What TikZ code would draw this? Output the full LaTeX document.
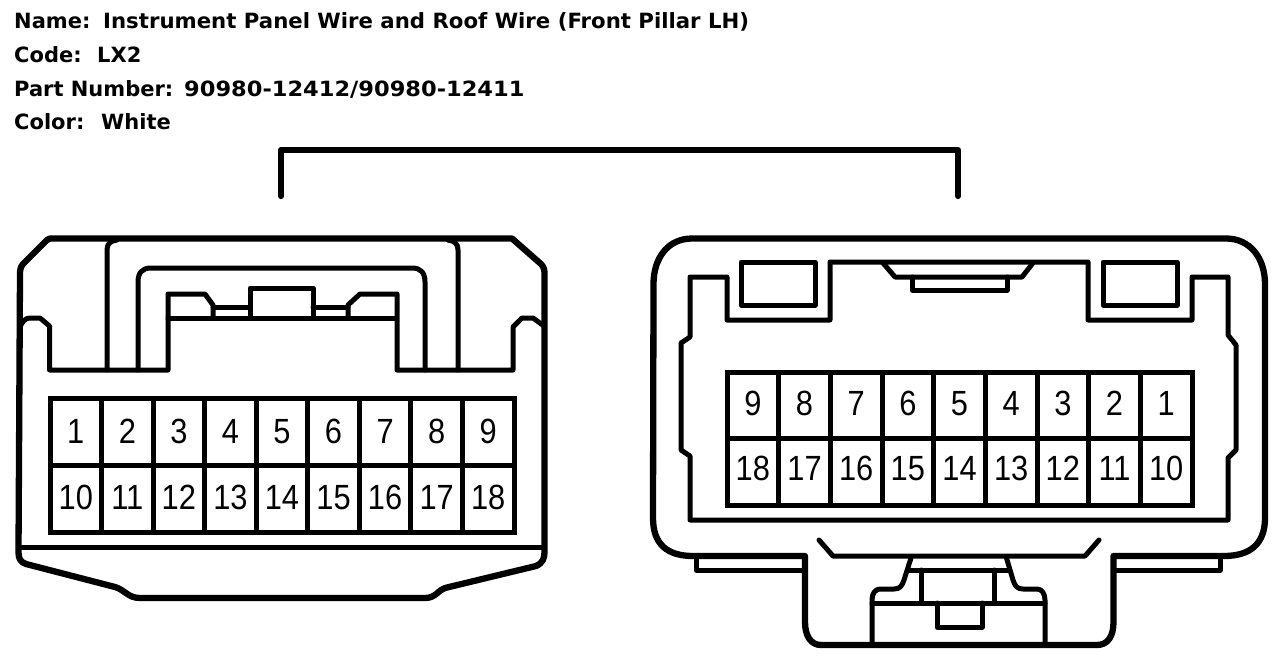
\documentclass[tikz,border=0pt]{standalone}
\usepackage{fontspec}
\setmainfont{Liberation Sans}
\newfontfamily\headfont{DejaVu Sans}[BoldFont={DejaVu Sans Bold}]
\newcommand{\pinnum}[1]{\scalebox{0.88}[1]{#1}}
\tikzset{
  outer/.style={line width=6.3pt,line join=round,line cap=round},
  inner/.style={line width=5pt,line join=round,line cap=round},
  grid/.style={line width=5pt,line join=miter},
  head/.style={inner sep=0pt,anchor=base west,font=\headfont\bfseries\fontsize{21}{25}\selectfont},
  pin/.style={inner sep=0pt,text height=25pt,text depth=0pt,font=\fontsize{35}{40}\selectfont}
}
\begin{document}
\begin{tikzpicture}[x=1pt,y=-1pt]
\useasboundingbox (0,0) rectangle (1280,664);
% header
\node[head] (n1) at (14,28) {Name:};
\node[head] (n2) at (103,28) {\scalebox{1.012}[1]{Instrument Panel Wire and Roof Wire (Front Pillar LH)}};
\node[head] (c1) at (14,62) {Code:};
\node[head] (c2) at (97,62) {LX2};
\node[head] (p1) at (14,96) {Part Number:};
\node[head] (p2) at (184,96) {\scalebox{1.072}[1]{90980-12412/90980-12411}};
\node[head] (k1) at (14,129) {Color:};
\node[head] (k2) at (101,129) {White};
% bracket
\draw[outer] (281,196) -- (281,150) -- (958,150) -- (958,196);
% ---------- left connector
\draw[outer] (50,238.5) -- (512,238.5) -- (541,264) .. controls (544,267) and (544.5,270) .. (544.5,274)
  -- (544.5,552) .. controls (544.5,558) and (543,563) .. (536,566) -- (445,588)
  .. controls (438,590) and (436,598) .. (425,598) -- (140,598)
  .. controls (128,598) and (125,590) .. (115,587) -- (26,564)
  .. controls (20,562) and (18.5,558) .. (18.5,552) -- (20,274)
  .. controls (20,270) and (20.5,267) .. (23,264) -- (47,240) .. controls (48,239) and (49,238.5) .. (50,238.5) -- cycle;
\draw[inner] (20,327) .. controls (22,322) and (25,318) .. (30,318) -- (40,318) -- (49.5,326) -- (49.5,370) -- (168,370) -- (168,294) -- (205,294) -- (213,305) -- (213,318);
\draw[inner] (168,318) -- (395,318);
\draw[inner] (213,307) -- (250,307);
\draw[inner] (250,318) -- (250,288) -- (313,288) -- (313,318);
\draw[inner] (313,307) -- (348,307);
\draw[inner] (348,318) -- (348,305) -- (360,294) -- (397,294) -- (397,370) -- (513,370) -- (513,327) -- (522,318) -- (533,318) -- (544,326);
\draw[inner] (107,370) -- (107,250) .. controls (107,244) and (110,241) .. (117,240);
\draw[inner] (138,370) -- (138,282) .. controls (138,273) and (142,268) .. (151,268) -- (412,268)
  .. controls (421,268) and (425,273) .. (425,282) -- (425,370);
\draw[inner] (458,370) -- (458,250) .. controls (458,244) and (455,241) .. (448,240);
\draw[inner] (20.5,547) -- (544.5,547);
% left grid
\draw[grid] (50,398) rectangle (514,532);
\draw[grid] (50,465) -- (514,465);
\foreach \i in {1,...,8} \draw[grid] ({50+51.55*\i},398) -- ({50+51.55*\i},532);
\foreach \i in {1,...,9} {
  \node[pin] (la\i) at ({50+51.55*(\i-0.5)},430.5) {\pinnum{\i}};
  \pgfmathtruncatemacro{\j}{\i+9}
  \node[pin] (lb\i) at ({50+51.55*(\i-0.5)},497) {\pinnum{\j}};
}
% ---------- right connector
\draw[outer] (692,238.5) -- (1226,238.5) .. controls (1250,238.5) and (1265,258) .. (1265,284)
  -- (1265,518) .. controls (1265,544) and (1250,556) .. (1224,556) -- (1113.5,556) -- (1113.5,622)
  .. controls (1113.5,636) and (1108,645) .. (1097,645) -- (821,645)
  .. controls (811,645) and (805,636) .. (805,622) -- (805,556) -- (693,556)
  .. controls (667,556) and (653,544) .. (653,518) -- (653.5,284)
  .. controls (653.5,258) and (668,238.5) .. (692,238.5) -- cycle;
\draw[inner] (690,520) -- (690,456) -- (681,450) -- (681,343) -- (690,337) -- (690,277) -- (727,277) -- (727,320) -- (830,320) -- (830,262)
  -- (1088,262) -- (1088,320) -- (1192,320) -- (1192,277) -- (1228,277) -- (1228,335) -- (1236,345) -- (1236,450) -- (1228,458) -- (1228,520) -- cycle;
\draw[inner] (741,262) rectangle (815,305);
\draw[inner] (1103,262) rectangle (1177,305);
\draw[inner] (883,263) -- (895,277) -- (1022,277) -- (1033,263);
\draw[inner] (912,277) -- (912,290) -- (1007,290) -- (1007,277);
% right grid
\draw[grid] (727,372) rectangle (1192,505);
\draw[grid] (727,438) -- (1192,438);
\foreach \i in {1,...,8} \draw[grid] ({727+51.67*\i},372) -- ({727+51.67*\i},505);
\foreach \i in {1,...,9} {
  \pgfmathtruncatemacro{\k}{10-\i}
  \pgfmathtruncatemacro{\j}{19-\i}
  \node[pin] (ra\i) at ({727+51.67*(\i-0.5)},403) {\pinnum{\k}};
  \node[pin] (rb\i) at ({727+51.67*(\i-0.5)},468) {\pinnum{\j}};
}
% right bottom details
\draw[inner] (696,556) -- (696,570) -- (805,570);
\draw[inner] (1220,556) -- (1220,570) -- (1113.5,570);
\draw[inner] (819,540) -- (833,556) -- (1085,556) -- (1099,540);
\draw[inner] (911,558) -- (904,580) .. controls (902,586) and (900,589) .. (894,589) -- (880,589) .. controls (875,589) and (872,594) .. (872,600) -- (872,645);
\draw[inner] (1006.5,558) -- (1013,580) .. controls (1015,586) and (1017,589) .. (1023,589) -- (1037,589) .. controls (1042,589) and (1045,594) .. (1045,600) -- (1045,645);
\draw[inner] (872,603) -- (1045,603);
\draw[inner] (909,570) -- (1009,570);
\draw[inner] (921,570) -- (921,603);
\draw[inner] (994,570) -- (994,603);
\draw[inner] (937,603) -- (937,627) -- (982,627) -- (982,603);
\end{tikzpicture}
\end{document}
